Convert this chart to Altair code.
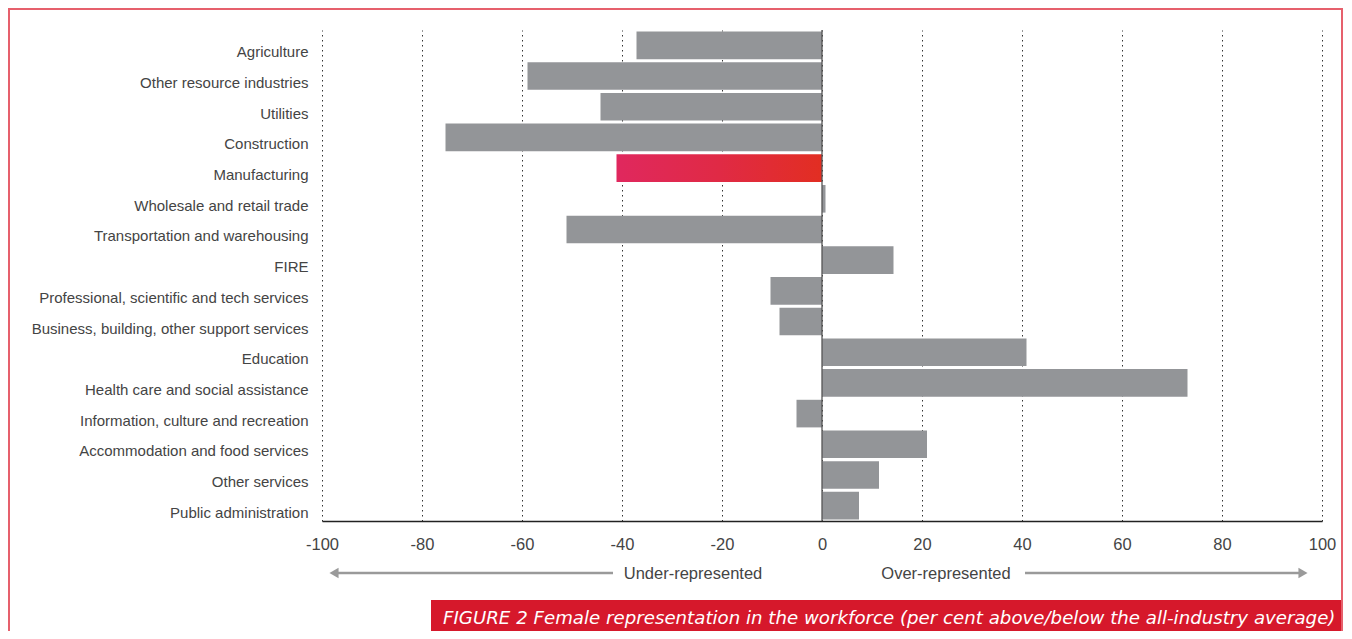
import altair as alt
import pandas as pd

categories = [
    "Agriculture",
    "Other resource industries",
    "Utilities",
    "Construction",
    "Manufacturing",
    "Wholesale and retail trade",
    "Transportation and warehousing",
    "FIRE",
    "Professional, scientific and tech services",
    "Business, building, other support services",
    "Education",
    "Health care and social assistance",
    "Information, culture and recreation",
    "Accommodation and food services",
    "Other services",
    "Public administration",
]
values = [-37.1, -58.9, -44.3, -75.3, -41.1, 0.7, -51.1, 14.3, -10.3, -8.5,
          40.9, 73.1, -5.1, 21.0, 11.4, 7.4]
highlight = "Manufacturing"
x_ticks = [-100, -80, -60, -40, -20, 0, 20, 40, 60, 80, 100]
under_label = "Under-represented"
over_label = "Over-represented"
caption = "FIGURE 2 Female representation in the workforce (per cent above/below the all-industry average)"

df = pd.DataFrame({"industry": categories, "value": values})
df_gray = df[df["industry"] != highlight]
df_hi = df[df["industry"] == highlight]

FONT = "Liberation Sans"
LABEL_COLOR = "#444444"
GRAY = "#939598"

W, H = 1000, 491

x_enc = alt.X(
    "value:Q",
    scale=alt.Scale(domain=[-100, 100], nice=False, zero=False),
    axis=alt.Axis(
        values=x_ticks, grid=True, gridDash=[1.5, 3.5], gridColor="#333333",
        gridWidth=1, ticks=False, domainColor="#222222", domainWidth=1.5,
        labelFontSize=16.5, labelColor=LABEL_COLOR, labelFont=FONT,
        labelPadding=15, title=None, labelExpr="'' + datum.value",
        labelFlush=False,
    ),
)
y_enc = alt.Y(
    "industry:N",
    sort=categories,
    scale=alt.Scale(paddingInner=0.1, paddingOuter=0.05),
    axis=alt.Axis(
        domain=False, ticks=False, labelPadding=14, labelOffset=7,
        labelFontSize=15, labelColor=LABEL_COLOR, labelFont=FONT,
        labelLimit=400, title=None, grid=False,
    ),
)

bars = alt.Chart(df_gray).mark_bar(color=GRAY).encode(x=x_enc, y=y_enc)

grad = alt.Gradient(
    gradient="linear",
    stops=[alt.GradientStop(color="#E0285E", offset=0),
           alt.GradientStop(color="#E02A45", offset=0.5),
           alt.GradientStop(color="#E22E22", offset=1)],
    x1=0, x2=1, y1=0, y2=0,
)
hi_bar = alt.Chart(df_hi).mark_bar(color=grad).encode(x="value:Q", y=alt.Y("industry:N", sort=categories))

zero = alt.Chart(pd.DataFrame({"value": [0]})).mark_rule(color="#555555", strokeWidth=1.3).encode(x="value:Q")

one = pd.DataFrame({"a": [1]})

border = alt.Chart(one).mark_rect(fillOpacity=0, stroke="#E6606C", strokeWidth=2).encode(
    x=alt.value(-313), x2=alt.value(1020), y=alt.value(-21), y2=alt.value(660)
)

cap_box = alt.Chart(one).mark_rect(color="#D6182B").encode(
    x=alt.value(109), x2=alt.value(1019), y=alt.value(570), y2=alt.value(660)
)
cap_text = alt.Chart(pd.DataFrame({"t": [caption]})).mark_text(
    align="left", baseline="alphabetic", fontStyle="italic", fontSize=18.2,
    font="DejaVu Sans", color="white"
).encode(x=alt.value(121), y=alt.value(594), text="t:N")

ARROW = "#9A9A9A"
left_line = alt.Chart(one).mark_rule(color=ARROW, strokeWidth=2.5).encode(
    x=alt.value(14), x2=alt.value(291), y=alt.value(543)
)
right_line = alt.Chart(one).mark_rule(color=ARROW, strokeWidth=2.5).encode(
    x=alt.value(703), x2=alt.value(980), y=alt.value(543)
)
left_head = alt.Chart(one).mark_point(shape="triangle-left", filled=True, size=110, color=ARROW, opacity=1).encode(
    x=alt.value(12), y=alt.value(543)
)
right_head = alt.Chart(one).mark_point(shape="triangle-right", filled=True, size=110, color=ARROW, opacity=1).encode(
    x=alt.value(981), y=alt.value(543)
)
under_text = alt.Chart(pd.DataFrame({"t": [under_label]})).mark_text(
    align="center", baseline="middle", fontSize=16.5, font=FONT, color=LABEL_COLOR
).encode(x=alt.value(371), y=alt.value(544), text="t:N")
over_text = alt.Chart(pd.DataFrame({"t": [over_label]})).mark_text(
    align="center", baseline="middle", fontSize=16.5, font=FONT, color=LABEL_COLOR
).encode(x=alt.value(624), y=alt.value(544), text="t:N")

chart = alt.layer(
    border, bars, hi_bar, zero, left_line, right_line, left_head, right_head,
    under_text, over_text, cap_box, cap_text
).properties(
    width=W, height=H,
    padding={"left": 314, "top": 22, "right": 22, "bottom": 110},
    autosize=alt.AutoSizeParams(type="none"),
    background="white",
).configure_view(stroke=None)

chart.save("out.html", embed_options={"renderer": "svg", "actions": False})
